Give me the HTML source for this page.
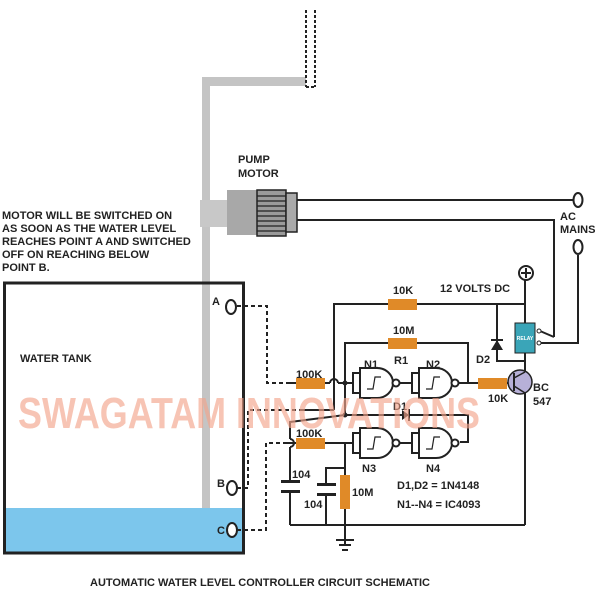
<!DOCTYPE html>
<html><head><style>
html,body{margin:0;padding:0;background:#fff;}
svg{display:block;font-family:"Liberation Sans",Arial,sans-serif;font-weight:bold;}
</style></head><body>
<svg width="600" height="600" viewBox="0 0 600 600">
<defs>
<g id="gate">
  <rect x="0" y="5" width="7" height="20" fill="#fff" stroke="#222" stroke-width="2"/>
  <path d="M7,0 H24 A16,15 0 0 1 24,30 H7 Z" fill="#fff" stroke="#222" stroke-width="2"/>
  <circle cx="43" cy="15" r="3.5" fill="#fff" stroke="#222" stroke-width="2"/>
  <path d="M14,21 H20 L22,9 H28" fill="none" stroke="#222" stroke-width="1.2"/>
</g>
</defs>
<!-- pipe -->
<rect x="202" y="77" width="8" height="431" fill="#c4c4c4"/>
<rect x="202" y="77" width="104" height="9" fill="#c4c4c4"/>
<g stroke="#222" stroke-width="2" stroke-dasharray="3,2" fill="none">
<line x1="306" y1="10" x2="306" y2="87"/><line x1="315" y1="10" x2="315" y2="87"/>
<line x1="306" y1="87" x2="315" y2="87"/>
</g>
<!-- tank -->
<rect x="6" y="508" width="236" height="45" fill="#7cc6ec"/>
<rect x="4.5" y="283" width="239" height="270" fill="none" stroke="#222" stroke-width="3"/>
<!-- motor -->
<rect x="200" y="200" width="28" height="27" fill="#c8c8c8"/>
<rect x="227" y="190" width="30" height="45" fill="#a8a8a8"/>
<rect x="257" y="190" width="29" height="46" fill="#9a9a9a" stroke="#222" stroke-width="1.5"/>
<g stroke="#222" stroke-width="1.2">
<line x1="257" y1="196" x2="286" y2="196"/><line x1="257" y1="201" x2="286" y2="201"/><line x1="257" y1="206" x2="286" y2="206"/><line x1="257" y1="211" x2="286" y2="211"/><line x1="257" y1="216" x2="286" y2="216"/><line x1="257" y1="221" x2="286" y2="221"/><line x1="257" y1="226" x2="286" y2="226"/><line x1="257" y1="231" x2="286" y2="231"/>
</g>
<rect x="286" y="193" width="11" height="39" fill="#aaa" stroke="#222" stroke-width="1.5"/>
<!-- wires -->
<g stroke="#222" stroke-width="2" fill="none">
<line x1="297" y1="200" x2="573" y2="200"/>
<polyline points="297,220 554,220 554,337"/>
<polyline points="578,255 578,343 540,343"/>
<line x1="540" y1="331" x2="554" y2="337"/>
<!-- probe dashed -->
<g stroke-dasharray="4,3">
<polyline points="237,306 267,306 267,383 290,383"/>
<polyline points="237,488 248,488 248,410 300,410"/>
<polyline points="237,530 266,530 266,443 287,443"/>
</g>
<!-- circuit -->
<polyline points="334,410 334,304 525,304 525,280"/>
<line x1="525" y1="304" x2="525" y2="323"/>
<line x1="300" y1="410" x2="334" y2="410"/>
<polyline points="290,383 330,383"/>
<path d="M330,383 A4,4 0 0 1 338,383"/>
<line x1="338" y1="383" x2="353" y2="383"/>
<polyline points="345,415 345,343 468,343 468,383"/>
<line x1="459" y1="383" x2="478" y2="383"/>
<line x1="399" y1="383" x2="412" y2="383"/>
<line x1="507" y1="383" x2="510" y2="383"/>
<polyline points="497,304 497,361 525,361"/>
<line x1="525" y1="353" x2="525" y2="372"/>
<line x1="525" y1="393" x2="525" y2="525"/>
<polyline points="345,415 468,415 468,442 460,442"/>
<polyline points="345,415 290,422 290,439"/>
<path d="M290,439 A4,4 0 0 1 290,447"/>
<line x1="290" y1="447" x2="290" y2="481"/>
<line x1="290" y1="492" x2="290" y2="525"/>
<line x1="287" y1="443" x2="353" y2="443"/>
<line x1="399" y1="443" x2="412" y2="443"/>
<polyline points="326,484 326,468 345,468"/>
<line x1="345" y1="443" x2="345" y2="545"/>
<line x1="326" y1="494" x2="326" y2="525"/>
<line x1="290" y1="525" x2="525" y2="525"/>
<line x1="336" y1="540" x2="354" y2="540"/>
<line x1="339" y1="545" x2="351" y2="545"/>
<line x1="342" y1="550" x2="348" y2="550"/>
</g>
<!-- caps -->
<g fill="#222">
<rect x="281" y="480" width="19" height="3"/><rect x="281" y="490" width="19" height="3"/>
<rect x="317" y="483" width="19" height="3"/><rect x="317" y="493" width="19" height="3"/>
</g>
<!-- resistors -->
<g fill="#e08a28">
<rect x="388" y="299" width="29" height="11"/>
<rect x="388" y="338" width="29" height="11"/>
<rect x="296" y="378" width="29" height="11"/>
<rect x="478" y="378" width="29" height="11"/>
<rect x="296" y="438" width="29" height="11"/>
<rect x="340" y="475" width="10" height="34"/>
</g>
<!-- nodes -->
<g fill="#222"><circle cx="345" cy="383" r="2.5"/><circle cx="345" cy="415" r="2.5"/><circle cx="290" cy="443" r="0"/></g>
<!-- diodes -->
<path d="M402,410 L409,415 L402,420 Z" fill="#222"/><line x1="409" y1="409" x2="409" y2="421" stroke="#222" stroke-width="2"/>
<path d="M491,350 L497,340 L503,350 Z" fill="#222"/><line x1="491" y1="340" x2="503" y2="340" stroke="#222" stroke-width="2"/>
<!-- gates -->
<use href="#gate" x="353" y="368"/>
<use href="#gate" x="412" y="368"/>
<use href="#gate" x="353" y="428"/>
<use href="#gate" x="412" y="428"/>
<!-- transistor -->
<circle cx="520" cy="382" r="12" fill="#b7b0d8" stroke="#222" stroke-width="1.5"/>
<line x1="514" y1="373" x2="514" y2="391" stroke="#222" stroke-width="2"/>
<line x1="514" y1="378" x2="525" y2="372" stroke="#222" stroke-width="1.5"/>
<line x1="514" y1="386" x2="525" y2="393" stroke="#222" stroke-width="1.5"/>
<!-- relay -->
<rect x="515" y="323" width="20" height="30" fill="#3aa5b8" stroke="#222" stroke-width="1"/>
<text x="525" y="340" font-size="5" fill="#fff" text-anchor="middle">RELAY</text>
<circle cx="539" cy="331" r="2" fill="#fff" stroke="#222"/>
<circle cx="539" cy="343" r="2" fill="#fff" stroke="#222"/>
<!-- terminals -->
<ellipse cx="578" cy="200" rx="4.5" ry="7" fill="#fff" stroke="#222" stroke-width="2"/>
<ellipse cx="578" cy="247" rx="4.5" ry="7" fill="#fff" stroke="#222" stroke-width="2"/>
<circle cx="526" cy="273" r="7" fill="#fff" stroke="#222" stroke-width="2"/>
<path d="M521,273 H531 M526,268 V278" stroke="#222" stroke-width="2"/>
<ellipse cx="231" cy="307" rx="5" ry="7" fill="#fff" stroke="#222" stroke-width="2"/>
<ellipse cx="232" cy="488" rx="5" ry="7" fill="#fff" stroke="#222" stroke-width="2"/>
<ellipse cx="232" cy="530" rx="5" ry="7" fill="#fff" stroke="#222" stroke-width="2"/>
<!-- text -->
<g font-size="11" fill="#222">
<text x="238" y="163">PUMP</text><text x="238" y="177">MOTOR</text>
<text x="560" y="220">AC</text><text x="560" y="233">MAINS</text>
<text x="2" y="219">MOTOR WILL BE SWITCHED ON</text>
<text x="2" y="232">AS SOON AS THE WATER LEVEL</text>
<text x="2" y="245">REACHES POINT A AND SWITCHED</text>
<text x="2" y="258">OFF ON REACHING BELOW</text>
<text x="2" y="271">POINT B.</text>
<text x="20" y="362">WATER TANK</text>
<text x="212" y="305">A</text><text x="217" y="487">B</text><text x="217" y="534">C</text>
<text x="440" y="292">12 VOLTS DC</text>
<text x="393" y="294">10K</text>
<text x="393" y="334">10M</text>
<text x="394" y="364">R1</text>
<text x="364" y="368">N1</text><text x="426" y="368">N2</text>
<text x="296" y="378">100K</text>
<text x="296" y="437">100K</text>
<text x="393" y="410">D1</text>
<text x="476" y="363">D2</text>
<text x="488" y="402">10K</text>
<text x="533" y="391">BC</text><text x="533" y="405">547</text>
<text x="362" y="472">N3</text><text x="426" y="472">N4</text>
<text x="397" y="489">D1,D2 = 1N4148</text>
<text x="397" y="508">N1--N4 = IC4093</text>
<text x="292" y="478">104</text><text x="304" y="508">104</text>
<text x="352" y="496">10M</text>
<text x="90" y="586">AUTOMATIC WATER LEVEL CONTROLLER CIRCUIT SCHEMATIC</text>
</g>
<text x="18" y="428" font-size="44" fill="#f2a58c" fill-opacity="0.65" textLength="462" lengthAdjust="spacingAndGlyphs">SWAGATAM INNOVATIONS</text>
</svg>
</body></html>
